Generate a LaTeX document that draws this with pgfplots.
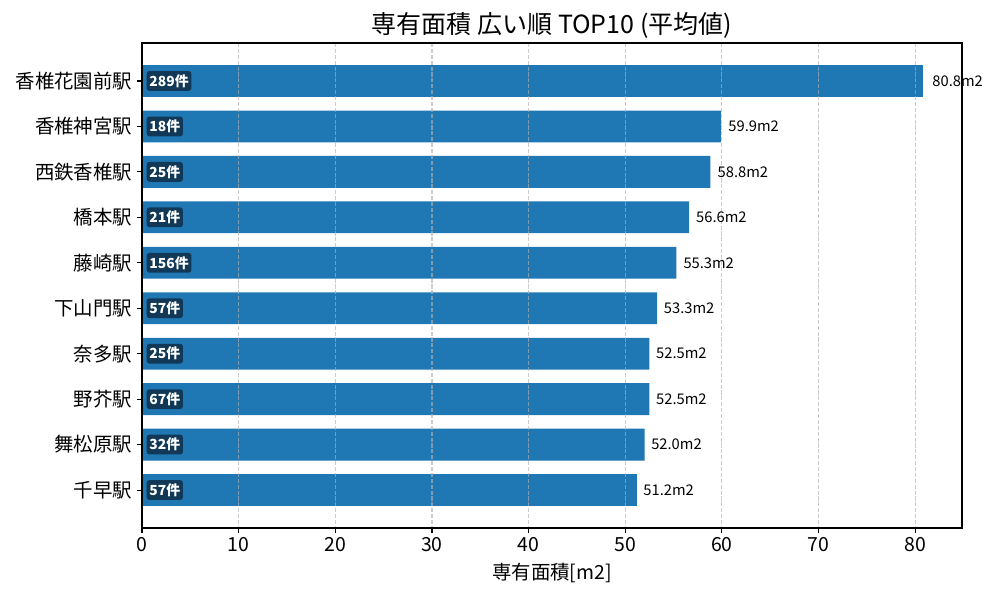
\documentclass[border=0pt]{standalone}
\usepackage{pgfplots}
\usepackage{pgfplotstable}
\pgfplotsset{compat=1.18}
\usepackage{fontspec}
\setmainfont{Noto Sans CJK JP}
\definecolor{barblue}{HTML}{1F77B4}
\definecolor{boxblue}{RGB}{17,57,87}
\definecolor{gridgray}{RGB}{176,176,176}
\pgfplotstableread{
y v
0 80.8
1 59.9
2 58.8
3 56.6
4 55.3
5 53.3
6 52.5
7 52.5
8 52.0
9 51.2
}\areadata
\pgfplotstableread{
y x c
0 0.45 289件
1 0.45 18件
2 0.45 25件
3 0.45 21件
4 0.45 156件
5 0.45 57件
6 0.45 25件
7 0.45 67件
8 0.45 32件
9 0.45 57件
}\countdata
\begin{document}
\begin{tikzpicture}
\useasboundingbox (0,0) rectangle (720pt,432pt);
\begin{axis}[
  at={(102.24pt,51.84pt)}, anchor=south west,
  scale only axis, width=590.4pt, height=349.2pt,
  xmin=0, xmax=84.84, ymin=-0.835, ymax=9.835,
  y dir=reverse,
  ytick={0,...,9},
  yticklabels={香椎花園前駅,香椎神宮駅,西鉄香椎駅,橋本駅,藤崎駅,下山門駅,奈多駅,野芥駅,舞松原駅,千早駅},
  xtick={0,10,...,80},
  tick align=outside, xtick pos=lower, ytick pos=left,
  major tick length=3.5pt,
  tick style={black, line width=0.8pt},
  axis line style={line width=0.8pt},
  xmajorgrids,
  grid style={gridgray, opacity=0.65, line width=0.8pt, dash pattern=on 2.96pt off 1.28pt},
  ticklabel style={font=\fontsize{14pt}{16pt}\selectfont},
  /pgf/number format/assume math mode=true,
  xlabel={専有面積[m2]},
  xlabel style={font=\fontsize{14pt}{16pt}\selectfont, yshift=-1pt},
  title={専有面積 広い順 TOP10 (平均値)},
  title style={font=\fontsize{18pt}{21pt}\selectfont, yshift=-6pt},
  clip=false,
  axis on top=true,
]
\addplot[xbar, bar shift=0pt, bar width=0.7, fill=barblue, draw=none] table[x=v, y=y] {\areadata};
\addplot[draw=none, mark=none,
  nodes near coords={\pgfmathprintnumber[fixed,precision=1,fixed zerofill]{\pgfplotspointmeta}m2},
  point meta=\thisrow{v},
  nodes near coords style={anchor=west, inner sep=0pt, xshift=1pt, text=black, font=\fontsize{10.6pt}{12pt}\selectfont, /pgf/number format/assume math mode=true},
] table[x expr=\thisrow{v}*1.01, y=y] {\areadata};
\addplot[draw=none, mark=none,
  nodes near coords,
  point meta=explicit symbolic,
  nodes near coords style={anchor=west, fill=boxblue, rounded corners=2pt, text=white, inner xsep=2pt, inner ysep=2.4pt, font=\fontsize{10pt}{12pt}\selectfont\bfseries},
] table[x=x, y=y, meta=c] {\countdata};
\end{axis}
\end{tikzpicture}
\end{document}
